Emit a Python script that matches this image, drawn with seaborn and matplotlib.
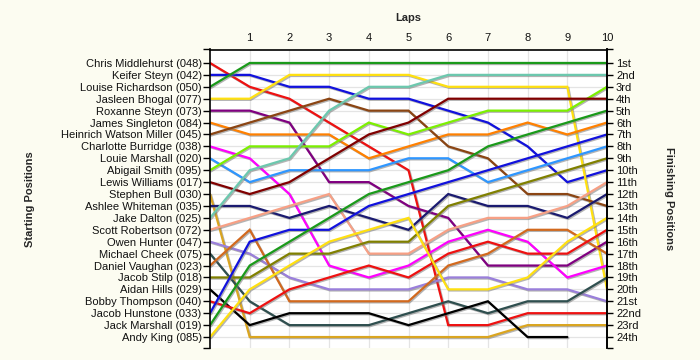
import numpy as np
import pandas as pd
import matplotlib
matplotlib.use("Agg")
import matplotlib.pyplot as plt
import matplotlib.patheffects as pe
import seaborn as sns

laps = list(range(0, 11))
drivers = ["Chris Middlehurst (048)", "Keifer Steyn (042)", "Louise Richardson (050)",
           "Jasleen Bhogal (077)", "Roxanne Steyn (073)", "James Singleton (084)",
           "Heinrich Watson Miller (045)", "Charlotte Burridge (038)", "Louie Marshall (020)",
           "Abigail Smith (095)", "Lewis Williams (017)", "Stephen Bull (030)",
           "Ashlee Whiteman (035)", "Jake Dalton (025)", "Scott Robertson (072)",
           "Owen Hunter (047)", "Michael Cheek (075)", "Daniel Vaughan (023)",
           "Jacob Stilp (018)", "Aidan Hills (029)", "Bobby Thompson (040)",
           "Jacob Hunstone (033)", "Jack Marshall (019)", "Andy King (085)"]

chris_middlehurst = [1, 3, 4, 6, 8, 10, 23, 23, 22, 22, 22]
keifer_steyn = [2, 2, 3, 3, 4, 4, 5, 6, 8, 11, 10]
louise_richardson = [3, 1, 1, 1, 1, 1, 1, 1, 1, 1, 1]
jasleen_bhogal = [4, 4, 2, 2, 2, 2, 3, 3, 3, 3, 20]
roxanne_steyn = [5, 5, 6, 11, 11, 13, 14, 18, 18, 18, 16]
james_singleton = [6, 7, 7, 7, 9, 8, 7, 7, 6, 7, 6]
heinrich_watson_miller = [7, 6, 5, 4, 5, 5, 8, 9, 12, 12, 13]
charlotte_burridge = [8, 9, 12, 18, 19, 18, 16, 15, 16, 19, 18]
louie_marshall = [9, 11, 10, 10, 10, 9, 9, 11, 10, 9, 8]
abigail_smith = [10, 8, 8, 8, 6, 7, 6, 5, 5, 5, 3]
lewis_williams = [11, 12, 11, 9, 7, 6, 4, 4, 4, 4, 4]
stephen_bull = [12, 24, 24, 24, 24, 24, 24, 24, 23, 23, 23]
ashlee_whiteman = [13, 13, 14, 13, 14, 15, 12, 13, 13, 14, 12]
jake_dalton = [14, 10, 9, 5, 3, 3, 2, 2, 2, 2, 2]
scott_robertson = [15, 14, 13, 12, 17, 17, 15, 14, 14, 13, 11]
owen_hunter = [16, 17, 19, 20, 20, 20, 19, 19, 20, 20, 21]
michael_cheek = [17, 21, 23, 23, 23, 22, 21, 22, 21, 21, 19]
daniel_vaughan = [18, 15, 21, 21, 21, 21, 18, 17, 15, 15, 17]
jacob_stilp = [19, 19, 17, 17, 16, 16, 13, 12, 11, 10, 9]
aidan_hills = [20, 23, 22, 22, 22, 23, 22, 21, 24, 24, np.nan]
bobby_thompson = [21, 22, 20, 19, 18, 19, 17, 16, 17, 17, 15]
jacob_hunstone = [22, 16, 15, 15, 13, 12, 11, 10, 9, 8, 7]
jack_marshall = [23, 18, 16, 14, 12, 11, 10, 8, 7, 6, 5]
andy_king = [24, 20, 18, 16, 15, 14, 20, 20, 19, 16, 14]

positions = [chris_middlehurst, keifer_steyn, louise_richardson, jasleen_bhogal,
             roxanne_steyn, james_singleton, heinrich_watson_miller, charlotte_burridge,
             louie_marshall, abigail_smith, lewis_williams, stephen_bull,
             ashlee_whiteman, jake_dalton, scott_robertson, owen_hunter, michael_cheek,
             daniel_vaughan, jacob_stilp, aidan_hills, bobby_thompson, jacob_hunstone,
             jack_marshall, andy_king]

finish_labels = ["1st", "2nd", "3rd", "4th", "5th", "6th", "7th", "8th", "9th", "10th",
                 "11th", "12th", "13th", "14th", "15th", "16th", "17th", "18th", "19th",
                 "20th", "21st", "22nd", "23rd", "24th"]

base_colors = ["#EE1111", "#1111DD", "#1A9A1A", "#FFE010", "#800080", "#FF8000",
               "#8B4513", "#FF00FF", "#2E96FF", "#7CF000", "#800000", "#DAA520",
               "#1A1A70", "#6CC8AE", "#F7A085", "#9A7FDB", "#2F4F4F", "#D2691E",
               "#808000", "#000000"]
palette = {d: base_colors[i % len(base_colors)] for i, d in enumerate(drivers)}

rows = []
for d, pos in zip(drivers, positions):
    for lap, p in zip(laps, pos):
        rows.append({"driver": d, "lap": lap, "position": p})
df = pd.DataFrame(rows)

sns.set_style("white")
plt.rcParams["font.family"] = ["Liberation Sans", "DejaVu Sans"]
bg = "#FCFCF1"
fig = plt.figure(figsize=(7, 3.6), dpi=100, facecolor=bg)
ax = fig.add_axes([0.3, 1 - 348 / 360, 397 / 700, 298.5 / 360])
ax.set_facecolor("white")

sns.lineplot(data=df, x="lap", y="position", hue="driver", palette=palette,
             hue_order=drivers, estimator=None, sort=False, legend=False,
             linewidth=1.6, ax=ax)
for ln in ax.get_lines():
    ln.set_path_effects([pe.SimpleLineShadow(offset=(0.8, -0.8), shadow_color="#777777", alpha=0.55),
                         pe.Normal()])
    ln.set_solid_joinstyle("miter")

ax.set_xlim(0, 10)
ax.set_ylim(24.92, -0.13)

# grid
for y in range(1, 25):
    ax.axhline(y, color="#E4E4E4", lw=0.9, zorder=0)
for x in range(1, 11):
    ax.axvline(x, color="#E4E4E4", lw=0.9, zorder=0)

ax.xaxis.tick_top()
ax.set_xticks(range(1, 11))
ax.set_xticklabels([str(i) for i in range(1, 11)])
ax.tick_params(axis="x", top=True, bottom=False, length=0, pad=5, labelsize=8,
               labelcolor="#111111")
ax.set_xlabel("")
ax.set_ylabel("")

ax.set_yticks(range(1, 25))
ax.set_yticklabels(drivers)
ax.set_yticks([-0.13, 24.92], minor=True)
ax.tick_params(axis="y", which="major", left=True, length=5, width=1, pad=1,
               labelsize=8, labelcolor="#111111", color="black")
ax.tick_params(axis="y", which="minor", left=True, length=5, width=1, color="black")

for s in ["left", "right", "top"]:
    ax.spines[s].set_visible(True)
    ax.spines[s].set_color("black")
    ax.spines[s].set_linewidth(1.2)
ax.spines["bottom"].set_visible(False)

ax2 = ax.twinx()
ax2.set_ylim(ax.get_ylim())
ax2.set_yticks(range(1, 25))
ax2.set_yticklabels(finish_labels)
ax2.set_yticks([-0.13, 24.92], minor=True)
ax2.tick_params(axis="y", which="major", right=True, length=4.5, width=1, pad=2,
                labelsize=8, labelcolor="#111111", color="black")
ax2.tick_params(axis="y", which="minor", right=True, length=4.5, width=1, color="black")
for s in ["left", "bottom", "top"]:
    ax2.spines[s].set_visible(False)
ax2.spines["right"].set_color("black")
ax2.spines["right"].set_linewidth(1.2)

fig.text(408 / 700, 1 - 18 / 360, "Laps", ha="center", va="center",
         fontsize=8, fontweight="bold")
fig.text(30 / 700, 1 - 199 / 360, "Starting Positions", ha="center", va="center",
         rotation=90, fontsize=8, fontweight="bold")
fig.text(669 / 700, 1 - 199 / 360, "Finishing Positions", ha="center", va="center",
         rotation=270, fontsize=8, fontweight="bold")

fig.savefig("out.png", dpi=100, facecolor=bg)
